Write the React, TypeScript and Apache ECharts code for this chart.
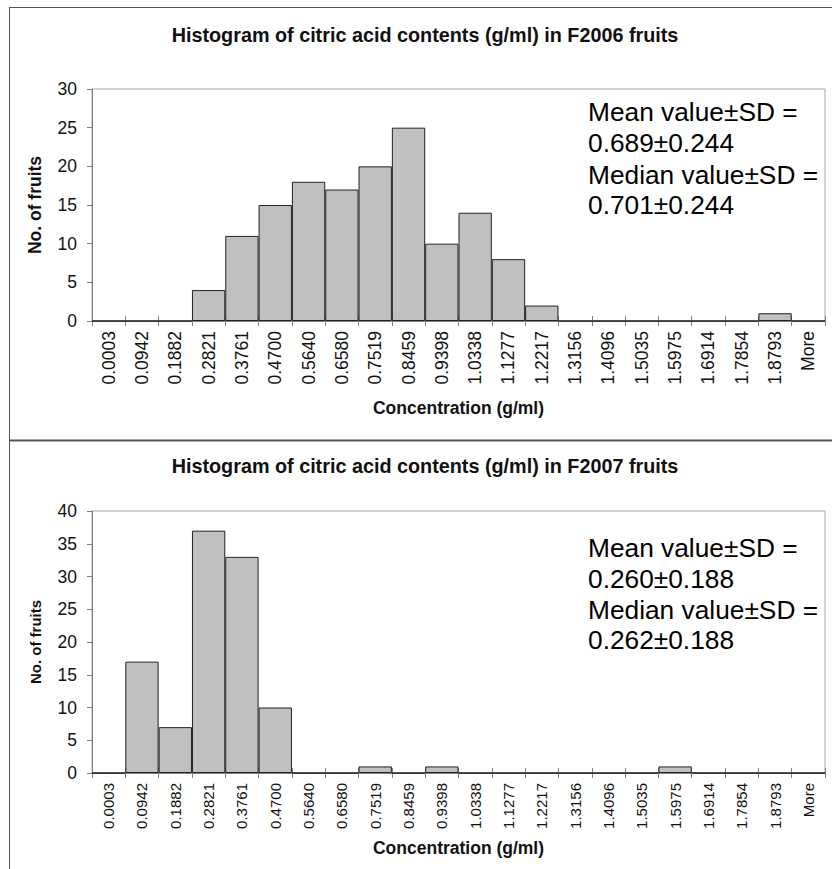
import React, { useEffect, useRef } from "react";
import * as echarts from "echarts";

const categories = [
  "0.0003", "0.0942", "0.1882", "0.2821", "0.3761", "0.4700", "0.5640", "0.6580",
  "0.7519", "0.8459", "0.9398", "1.0338", "1.1277", "1.2217", "1.3156", "1.4096",
  "1.5035", "1.5975", "1.6914", "1.7854", "1.8793", "More",
];
const counts2006 = [0, 0, 0, 4, 11, 15, 18, 17, 20, 25, 10, 14, 8, 2, 0, 0, 0, 0, 0, 0, 1, 0];
const counts2007 = [0, 17, 7, 37, 33, 10, 0, 0, 1, 0, 1, 0, 0, 0, 0, 0, 0, 1, 0, 0, 0, 0];
const titles = [
  "Histogram of citric acid contents (g/ml) in F2006 fruits",
  "Histogram of citric acid contents (g/ml) in F2007 fruits",
];
const stats2006 = ["Mean value±SD =", "0.689±0.244", "Median value±SD =", "0.701±0.244"];
const stats2007 = ["Mean value±SD =", "0.260±0.188", "Median value±SD =", "0.262±0.188"];
const yMaxes = [30, 40];
const yInterval = 5;
const xName = "Concentration (g/ml)";
const yName = "No. of fruits";

const FONT = "'Liberation Sans', Arial, Helvetica, sans-serif";

export default function App() {
  const ref = useRef<HTMLDivElement>(null);
  useEffect(() => {
    if (!ref.current) return;
    const chart = echarts.init(ref.current, undefined, { renderer: "svg" });

    const grids = [
      { left: 92, top: 89, width: 733, height: 232 },
      { left: 92, top: 511, width: 733, height: 262 },
    ];
    const xLabelSize = [17.5, 15];
    const yNameSize = [17.5, 15];
    const xNameGap = [78, 66];
    const yNameGap = [48, 49];

    const xAxes: any[] = [];
    const yAxes: any[] = [];
    [0, 1].forEach((g) => {
      xAxes.push({
        type: "category",
        gridIndex: g,
        data: categories,
        position: "bottom",
        boundaryGap: true,
        axisLine: { show: true, lineStyle: { color: "#808080", width: 1 } },
        axisTick: { show: true, interval: 0, length: 5, lineStyle: { color: "#808080" } },
        axisLabel: {
          interval: 0,
          rotate: 90,
          margin: 10,
          fontSize: xLabelSize[g],
          color: "#111",
          fontFamily: FONT,
        },
        name: xName,
        nameLocation: "middle",
        nameGap: xNameGap[g],
        nameTextStyle: { fontSize: 17.5, fontWeight: "bold", color: "#111", fontFamily: FONT },
      });
      xAxes.push({
        type: "category",
        gridIndex: g,
        data: categories,
        position: "bottom",
        boundaryGap: true,
        axisLine: { show: false },
        axisTick: { show: true, inside: true, interval: 0, length: 5, lineStyle: { color: "#808080" } },
        axisLabel: { show: false },
      });
      yAxes.push({
        type: "value",
        gridIndex: g,
        min: 0,
        max: yMaxes[g],
        interval: yInterval,
        axisLine: { show: true, lineStyle: { color: "#808080", width: 1 } },
        axisTick: { show: true, length: 5, lineStyle: { color: "#808080" } },
        splitLine: { show: false },
        axisLabel: { margin: 15, fontSize: 17.5, color: "#111", fontFamily: FONT },
        name: yName,
        nameLocation: "middle",
        nameGap: yNameGap[g],
        nameRotate: 90,
        nameTextStyle: { fontSize: yNameSize[g], fontWeight: "bold", color: "#111", fontFamily: FONT },
      });
    });

    const statText = (lines: string[], ys: number[]) =>
      lines.map((t, i) => ({
        type: "text",
        x: 588,
        y: ys[i],
        style: {
          text: t,
          fontSize: 26.3,
          fontFamily: FONT,
          fill: "#000",
          textAlign: "left",
          textVerticalAlign: "middle",
        },
      }));

    const titleText = (t: string, y: number) => ({
      type: "text",
      x: 425,
      y,
      style: {
        text: t,
        fontSize: 19.8,
        fontWeight: "bold",
        fontFamily: FONT,
        fill: "#111",
        textAlign: "center",
        textVerticalAlign: "middle",
      },
    });

    chart.setOption({
      animation: false,
      backgroundColor: "#fff",
      grid: grids.map((gr) => ({
        ...gr,
        show: true,
        borderColor: "#a6a6a6",
        borderWidth: 1,
        backgroundColor: "transparent",
        containLabel: false,
      })),
      xAxis: xAxes,
      yAxis: yAxes,
      series: [
        {
          type: "bar",
          xAxisIndex: 0,
          yAxisIndex: 0,
          data: counts2006,
          barCategoryGap: "0%",
          itemStyle: { color: "#c0c0c0", borderColor: "#222", borderWidth: 1 },
        },
        {
          type: "bar",
          xAxisIndex: 2,
          yAxisIndex: 1,
          data: counts2007,
          barCategoryGap: "0%",
          itemStyle: { color: "#c0c0c0", borderColor: "#222", borderWidth: 1 },
        },
      ],
      graphic: [
        { type: "line", shape: { x1: 9, y1: 7.5, x2: 832, y2: 7.5 }, style: { stroke: "#555", lineWidth: 1 } },
        { type: "line", shape: { x1: 9.5, y1: 7, x2: 9.5, y2: 869 }, style: { stroke: "#555", lineWidth: 1 } },
        { type: "line", shape: { x1: 9, y1: 440.5, x2: 832, y2: 440.5 }, style: { stroke: "#555", lineWidth: 2 } },
        titleText(titles[0], 35),
        titleText(titles[1], 466),
        ...statText(stats2006, [112, 143, 175, 205]),
        ...statText(stats2007, [548, 579, 610, 640]),
      ],
    });

    return () => chart.dispose();
  }, []);

  return (
    <div
      ref={ref}
      style={{ position: "absolute", left: 0, top: 0, width: 832, height: 869 }}
    />
  );
}
